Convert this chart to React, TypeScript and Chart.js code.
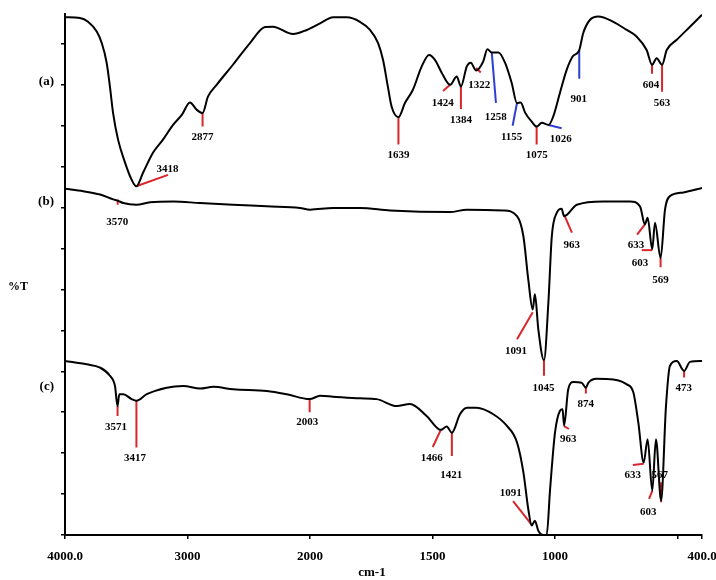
import React, { useEffect, useRef } from "react";
import { Chart, registerables } from "chart.js";

Chart.register(...registerables);

// ---- x axis (wavenumber, cm-1) ----
const xTickWavenumbers = [4000, 3000, 2000, 1500, 1000, 500, 400];
const xTickLabels = ["4000.0", "3000", "2000", "1500", "1000", "", "400.0"];

// ---- spectrum (a) ----
const waveA = [4000, 3878, 3812, 3741, 3700, 3660, 3633, 3608, 3567, 3510, 3456, 3418, 3363, 3282, 3200, 3118, 3045, 2980, 2925, 2877, 2833, 2762, 2629, 2490, 2367, 2302, 2139, 2027, 1959, 1906, 1850, 1796, 1755, 1722, 1702, 1682, 1667, 1639, 1612, 1580, 1544, 1514, 1490, 1462, 1428, 1401, 1384, 1360, 1344, 1322, 1293, 1276, 1258, 1231, 1204, 1177, 1155, 1140, 1122, 1095, 1075, 1054, 1026, 1007, 980, 952, 928, 901, 885, 857, 823, 762, 707, 667, 626, 604, 585, 563, 544, 503, 449, 400];
const transA = [126.5, 126.3, 125.4, 123.0, 120.2, 115.4, 109.5, 103.2, 96.6, 91.0, 86.8, 85.2, 88.5, 93.4, 96.6, 100.2, 102.7, 105.7, 103.9, 103.1, 107.1, 110.0, 114.9, 120.2, 124.1, 124.2, 122.4, 123.4, 125.0, 126.5, 126.5, 125.4, 123.4, 120.2, 116.1, 109.5, 104.7, 102.1, 105.6, 108.8, 114.5, 117.3, 116.1, 112.9, 110.0, 112.0, 109.6, 114.5, 115.4, 113.5, 115.7, 118.7, 117.9, 117.9, 115.4, 110.5, 105.5, 105.7, 103.2, 101.0, 99.8, 100.7, 100.2, 102.3, 108.0, 113.7, 116.9, 118.5, 122.6, 125.9, 126.7, 125.4, 123.4, 121.8, 118.5, 114.9, 116.5, 114.9, 118.5, 121.0, 124.2, 127.1];

// ---- spectrum (b) ----
const waveB = [4000, 3851, 3714, 3606, 3570, 3524, 3418, 3306, 3116, 2898, 2629, 2353, 2082, 2000, 1906, 1796, 1673, 1429, 1360, 1211, 1155, 1129, 1109, 1091, 1082, 1068, 1045, 1027, 1013, 993, 973, 963, 911, 803, 694, 653, 633, 622, 603, 592, 569, 551, 531, 476, 400];
const transB = [84.6, 84.0, 83.2, 82.0, 81.7, 81.1, 80.7, 81.3, 81.5, 81.1, 80.7, 80.3, 79.9, 79.5, 79.9, 79.9, 79.3, 78.9, 79.5, 79.3, 77.9, 73.0, 62.4, 55.1, 58.8, 50.2, 42.7, 56.8, 73.0, 78.7, 79.7, 77.9, 80.7, 81.5, 81.5, 80.3, 75.9, 77.5, 69.8, 76.3, 67.7, 79.5, 82.8, 83.7, 84.8];

// ---- spectrum (c) ----
const waveC = [4000, 3823, 3714, 3633, 3592, 3571, 3557, 3524, 3456, 3417, 3333, 3170, 3034, 2898, 2789, 2626, 2353, 2190, 2003, 1959, 1906, 1796, 1728, 1646, 1592, 1524, 1466, 1442, 1421, 1388, 1360, 1320, 1252, 1197, 1155, 1129, 1109, 1095, 1082, 1068, 1049, 1034, 1020, 1000, 980, 969, 963, 946, 925, 891, 874, 864, 830, 762, 707, 680, 660, 638, 622, 603, 588, 567, 547, 531, 503, 473, 449, 400];
const transC = [42.5, 41.7, 40.9, 38.9, 36.4, 31.5, 34.4, 34.4, 33.2, 32.8, 34.4, 36.0, 36.4, 35.8, 36.2, 35.6, 35.2, 34.4, 33.2, 34.0, 33.8, 33.4, 33.2, 31.5, 32.0, 29.1, 25.7, 26.5, 25.0, 29.5, 31.1, 31.1, 29.5, 26.7, 22.6, 15.3, 6.3, 2.3, 3.5, 1.0, 0, 0, 11.2, 25.0, 30.3, 30.7, 26.7, 35.6, 37.4, 37.2, 36.0, 37.2, 38.2, 38.0, 36.8, 34.8, 27.5, 17.7, 23.4, 10.8, 23.4, 8.4, 31.5, 41.3, 42.5, 40.1, 42.3, 42.5];

// ---- peak assignments: leader line [wn1, T1, wn2, T2] and label anchor [wn, T] ----
const peaksA = [
  { text: "3418", line: [3418, 85.2, 3159, 88.0], at: [3163, 89.5] },
  { text: "2877", line: [2877, 103.1, 2877, 99.8], at: [2877, 97.1] },
  { text: "1639", line: [1639, 102.1, 1639, 95.4], at: [1639, 92.9] },
  { text: "1424", line: [1428, 110.0, 1457, 108.5], at: [1458, 105.4] },
  { text: "1384", line: [1384, 109.6, 1384, 104.1], at: [1384, 101.3] },
  { text: "1322", line: [1322, 114.1, 1303, 113.0], at: [1309, 110.0] },
  { text: "1258", line: [1258, 117.8, 1241, 105.6], at: [1242, 102.1] },
  { text: "1155", line: [1155, 105.6, 1173, 100.0], at: [1177, 97.2] },
  { text: "1075", line: [1075, 99.8, 1075, 95.4], at: [1075, 92.7] },
  { text: "1026", line: [1026, 100.2, 973, 99.4], at: [977, 96.6] },
  { text: "901", line: [901, 118.5, 901, 111.5], at: [903, 106.6] },
  { text: "604", line: [604, 114.9, 604, 112.7], at: [608, 110.0] },
  { text: "563", line: [563, 114.9, 563, 108.3], at: [563, 105.5] },
];
const bluePeaksA = ["1258", "1155", "1026", "901"];

const peaksB = [
  { text: "3570", line: [3570, 82.0, 3570, 80.7], at: [3573, 76.5] },
  { text: "1091", line: [1091, 54.4, 1155, 47.8], at: [1159, 45.0] },
  { text: "1045", line: [1045, 42.7, 1045, 38.9], at: [1047, 36.0] },
  { text: "963", line: [963, 78.3, 931, 73.9], at: [932, 70.7] },
  { text: "633", line: [633, 75.9, 665, 73.4], at: [669, 70.7] },
  { text: "603", line: [603, 69.6, 646, 69.6], at: [653, 66.5] },
  { text: "569", line: [569, 67.8, 569, 65.4], at: [569, 62.2] },
];

const peaksC = [
  { text: "3571", line: [3571, 31.5, 3571, 29.1], at: [3584, 26.4] },
  { text: "3417", line: [3417, 32.8, 3417, 21.4], at: [3429, 18.8] },
  { text: "2003", line: [2003, 33.2, 2003, 30.0], at: [2022, 27.5] },
  { text: "1466", line: [1466, 25.7, 1499, 21.5], at: [1503, 18.7] },
  { text: "1421", line: [1421, 25.0, 1421, 19.3], at: [1423, 14.5] },
  { text: "1091", line: [1094, 2.4, 1171, 8.3], at: [1181, 10.2] },
  { text: "963", line: [963, 26.6, 943, 25.9], at: [946, 23.4] },
  { text: "874", line: [874, 36.1, 874, 34.6], at: [874, 32.0] },
  { text: "633", line: [638, 17.4, 682, 17.1], at: [683, 14.5] },
  { text: "567", line: [567, 12.9, 567, 8.0], at: [572, 14.5] },
  { text: "603", line: [603, 10.8, 616, 8.8], at: [619, 5.7] },
  { text: "473", line: [473, 40.2, 473, 38.5], at: [475, 36.0] },
];

const seriesNames = ["(a)", "(b)", "(c)"];
const seriesNameLevels = [110.7, 81.5, 36.2];
const yTitle = "%T";
const xTitle = "cm-1";

// piecewise scale: 4000-2000 compressed two-fold relative to 2000-400
const tx = (w: number) => (w > 2000 ? 2000 + (w - 2000) / 2 : w);

const RED = "#d8262b";
const BLUE = "#2d3fd2";
const FONT = '"Liberation Serif", "Times New Roman", serif';

export default function App() {
  const ref = useRef<HTMLCanvasElement | null>(null);

  useEffect(() => {
    if (!ref.current) return;
    const curve = (w: number[], t: number[]) => ({
      type: "line" as const,
      data: w.map((v, i) => ({ x: tx(v), y: t[i] })),
      borderColor: "#000",
      borderWidth: 2,
      pointRadius: 0,
      cubicInterpolationMode: "monotone" as const,
      order: 0,
    });
    const allPeaks = [...peaksA, ...peaksB, ...peaksC];
    const markSets = allPeaks.map((p, i) => ({
      type: "line" as const,
      data: [
        { x: tx(p.line[0]), y: p.line[1] },
        { x: tx(p.line[2]), y: p.line[3] },
      ],
      borderColor: i < peaksA.length && bluePeaksA.includes(p.text) ? BLUE : RED,
      borderWidth: 2,
      pointRadius: 0,
      order: 1,
    }));

    const textPlugin = {
      id: "ftirText",
      afterDraw(chart: any) {
        const { ctx, chartArea } = chart;
        const xs = chart.scales.x;
        const ys = chart.scales.y;
        ctx.save();
        ctx.fillStyle = "#000";
        ctx.textAlign = "center";
        ctx.textBaseline = "middle";
        ctx.font = `bold 11px ${FONT}`;
        for (const p of allPeaks) {
          ctx.fillText(p.text, xs.getPixelForValue(tx(p.at[0])), ys.getPixelForValue(p.at[1]));
        }
        ctx.font = `bold 13px ${FONT}`;
        ctx.textAlign = "right";
        seriesNames.forEach((n, i) => {
          ctx.fillText(n, chartArea.left - 11, ys.getPixelForValue(seriesNameLevels[i]));
        });
        ctx.font = `bold 12px ${FONT}`;
        ctx.fillText(yTitle, chartArea.left - 37, ys.getPixelForValue(60.7));
        ctx.textAlign = "center";
        ctx.font = `bold 13px ${FONT}`;
        ctx.fillText(xTitle, xs.getPixelForValue(tx(1747)), 573);
        ctx.restore();
      },
    };

    const chart = new Chart(ref.current, {
      type: "line",
      data: { datasets: [curve(waveA, transA), curve(waveB, transB), curve(waveC, transC), ...markSets] as any },
      options: {
        animation: false,
        responsive: false,
        events: [],
        layout: { padding: { left: 0, right: 14, top: 14, bottom: 0 } },
        plugins: { legend: { display: false }, tooltip: { enabled: false } },
        scales: {
          x: {
            type: "linear",
            reverse: true,
            min: 400,
            max: 3000,
            afterBuildTicks: (s: any) => {
              s.ticks = xTickWavenumbers.map((w) => ({ value: tx(w) }));
            },
            afterFit: (s: any) => {
              s.height = 45;
              s.paddingLeft = 0;
              s.paddingRight = 0;
            },
            ticks: {
              autoSkip: false,
              maxRotation: 0,
              color: "#000",
              padding: 10,
              font: { family: FONT, size: 13, weight: "bold" },
              callback: (v: any) => {
                const i = xTickWavenumbers.findIndex((w) => Math.abs(tx(w) - v) < 1e-6);
                return i >= 0 ? xTickLabels[i] : "";
              },
            },
            grid: { drawOnChartArea: false, drawTicks: true, tickLength: 4, color: "#000", lineWidth: 1.5 },
            border: { display: true, color: "#000", width: 2 },
          },
          y: {
            type: "linear",
            min: 0,
            max: 127.3,
            afterBuildTicks: (s: any) => {
              const t = [];
              for (let v = 0; v <= 120; v += 10) t.push({ value: v });
              s.ticks = t;
            },
            afterFit: (s: any) => {
              s.width = 65;
              s.paddingTop = 0;
              s.paddingBottom = 0;
            },
            ticks: { display: false },
            grid: { drawOnChartArea: false, drawTicks: true, tickLength: 4, color: "#000", lineWidth: 1.5 },
            border: { display: true, color: "#000", width: 2 },
          },
        },
      },
      plugins: [textPlugin],
    });
    return () => chart.destroy();
  }, []);

  return (
    <div style={{ position: "absolute", left: 0, top: 0, width: 716, height: 580, background: "#fff" }}>
      <canvas ref={ref} width={716} height={580} style={{ display: "block" }} />
    </div>
  );
}
